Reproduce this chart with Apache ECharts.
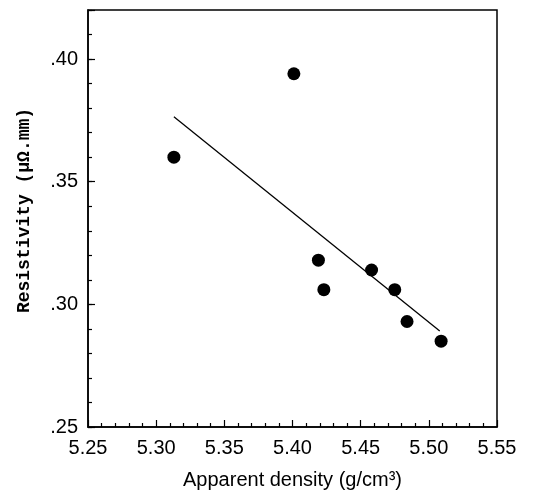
<!DOCTYPE html>
<html>
<head>
<meta charset="utf-8">
<script src="https://cdn.jsdelivr.net/npm/echarts@6/dist/echarts.min.js"></script>
<style>
  html, body { margin: 0; padding: 0; background: #fff; }
  #chart { width: 537px; height: 502px; }
</style>
</head>
<body>
<div id="chart"></div>
<script>
// 数据点 (g/cm3, μΩ.mm)
var density = [5.313, 5.401, 5.419, 5.423, 5.458, 5.475, 5.484, 5.509];
var resistivity = [0.360, 0.394, 0.318, 0.306, 0.314, 0.306, 0.293, 0.285];
// 拟合直线两端
var fitX = [5.313, 5.508];
var fitY = [0.3765, 0.2891];

var points = density.map(function (d, i) { return [d, resistivity[i]]; });
var fitLine = fitX.map(function (d, i) { return [d, fitY[i]]; });

var myChart = echarts.init(document.getElementById("chart"));
var fontLab = "Liberation Sans";

myChart.setOption({
  animation: false,
  grid: {
    left: 88,
    right: 40,
    top: 10,
    bottom: 75,
    show: true,
    borderColor: "#000",
    borderWidth: 1.5,
  },
  xAxis: {
    type: "value",
    min: 5.25,
    max: 5.55,
    interval: 0.05,
    name: "Apparent density (g/cm³)",
    nameLocation: "middle",
    nameGap: 43,
    nameTextStyle: { color: "#000", fontFamily: fontLab, fontSize: 20 },
    axisLine: { lineStyle: { color: "#000", width: 1.5 } },
    axisTick: { inside: true, length: 7, lineStyle: { color: "#000", width: 1.2 } },
    minorTick: { show: true, splitNumber: 5, length: 4, lineStyle: { color: "#000", width: 1.2 } },
    splitLine: { show: false },
    axisLabel: {
      color: "#000",
      fontFamily: fontLab,
      fontSize: 20,
      margin: 11,
      formatter: function (v) { return v.toFixed(2); },
    },
  },
  yAxis: [
    {
      type: "value",
      min: 0.25,
      max: 0.42,
      interval: 0.05,
      name: "Resistivity (μΩ.mm)",
      nameLocation: "middle",
      nameGap: 55,
      nameTextStyle: {
        color: "#000",
        fontFamily: "Liberation Mono",
        fontWeight: "bold",
        fontSize: 18,
        padding: [0, 0, 0, 16],
      },
      axisLine: { lineStyle: { color: "#000", width: 1.5 } },
      axisTick: { inside: true, length: 7, lineStyle: { color: "#000", width: 1.2 } },
      splitLine: { show: false },
      axisLabel: {
        color: "#000",
        fontFamily: fontLab,
        fontSize: 20,
        margin: 10,
        formatter: function (v) {
          if (Math.abs(v * 20 - Math.round(v * 20)) > 1e-6) return "";
          return v.toFixed(2).replace(/^0/, "");
        },
      },
    },
    {
      // 细刻度
      type: "value",
      position: "left",
      min: 0.25,
      max: 0.42,
      interval: 0.01,
      axisLine: { show: false },
      axisTick: { inside: true, length: 4, lineStyle: { color: "#000", width: 1.2 } },
      axisLabel: { show: false },
      splitLine: { show: false },
    },
  ],
  series: [
    {
      type: "line",
      data: fitLine,
      symbol: "none",
      lineStyle: { color: "#000", width: 1.3 },
      silent: true,
    },
    {
      type: "scatter",
      data: points,
      symbolSize: 13,
      itemStyle: { color: "#000", opacity: 1 },
    },
  ],
});
</script>
</body>
</html>
